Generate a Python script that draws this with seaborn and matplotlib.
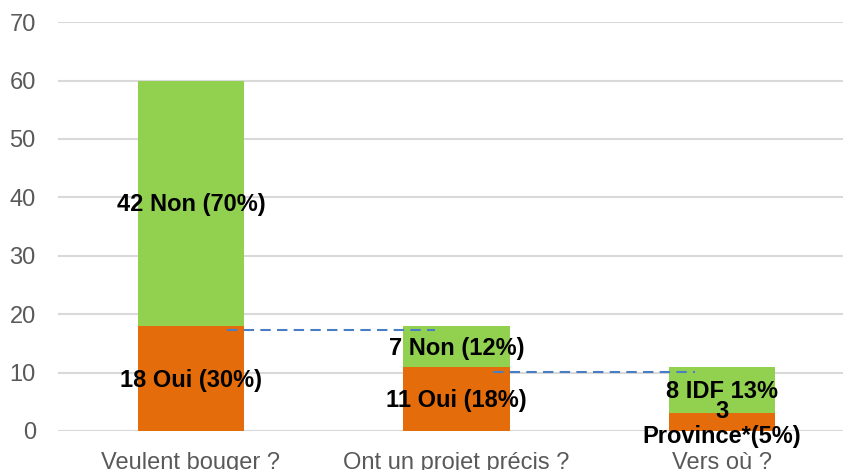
import matplotlib
matplotlib.use("Agg")
import matplotlib.pyplot as plt
import seaborn as sns
import pandas as pd

# data
categories = ["Veulent bouger ?", "Ont un projet précis ?", "Vers où ?"]
bottom_vals = [18, 11, 3]      # orange part (Oui / Province)
top_vals = [42, 7, 8]          # green part (Non / IDF)
bottom_labels = ["18 Oui (30%)", "11 Oui (18%)", "3\nProvince*(5%)"]
top_labels = ["42 Non (70%)", "7 Non (12%)", "8 IDF 13%"]
link_levels = [17.3, 10.1]     # hand-drawn dashed connectors

sns.set_theme(style="white")
plt.rcParams['font.family'] = ['Liberation Sans', 'DejaVu Sans']

orange = "#E46C0A"
green = "#92D050"
grid = "#D9D9D9"

df = pd.DataFrame({"cat": categories, "low": bottom_vals, "high": top_vals})
df["total"] = df["low"] + df["high"]

fig = plt.figure(figsize=(8.43, 4.70), dpi=100)
ax = fig.add_axes([0.0688, 0.083, 0.9312, 0.870])

sns.barplot(data=df, x="cat", y="total", color=green, width=0.4, saturation=1,
            linewidth=0, ax=ax, zorder=2)
sns.barplot(data=df, x="cat", y="low", color=orange, width=0.4, saturation=1,
            linewidth=0, ax=ax, zorder=3)

ax.set_ylim(0, 70)
ax.set_yticks(range(0, 71, 10))
ax.set_xlim(-0.5, 2.455)
ax.set_xlabel("")
ax.set_ylabel("")
ax.yaxis.grid(True, color=grid, linewidth=1.5, zorder=0)
ax.set_axisbelow(True)
for s in ax.spines.values():
    s.set_visible(False)
ax.axhline(0, color=grid, linewidth=1.5, zorder=1)
ax.tick_params(axis="both", length=0, labelsize=17, labelcolor="#595959")
ax.tick_params(axis="x", pad=15)
ax.tick_params(axis="y", pad=16)

# segment labels
for i in range(len(categories)):
    lo = bottom_vals[i]
    hi = top_vals[i]
    ax.text(i, lo / 2 - 0.3, bottom_labels[i], ha="center", va="center",
            fontsize=17, fontweight="bold", color="black", zorder=5, linespacing=1.1)
    ax.text(i, lo + hi / 2 - 0.3, top_labels[i], ha="center", va="center",
            fontsize=17, fontweight="bold", color="black", zorder=5)

# dashed connectors between bars
ax.plot([0.135, 0.921], [link_levels[0]] * 2, linestyle=(0, (5, 3)), color="#4A7EC4", lw=1.5, zorder=4)
ax.plot([1.139, 1.898], [link_levels[1]] * 2, linestyle=(0, (5, 3)), color="#4A7EC4", lw=1.5, zorder=4)

fig.savefig("out.png", dpi=100)
